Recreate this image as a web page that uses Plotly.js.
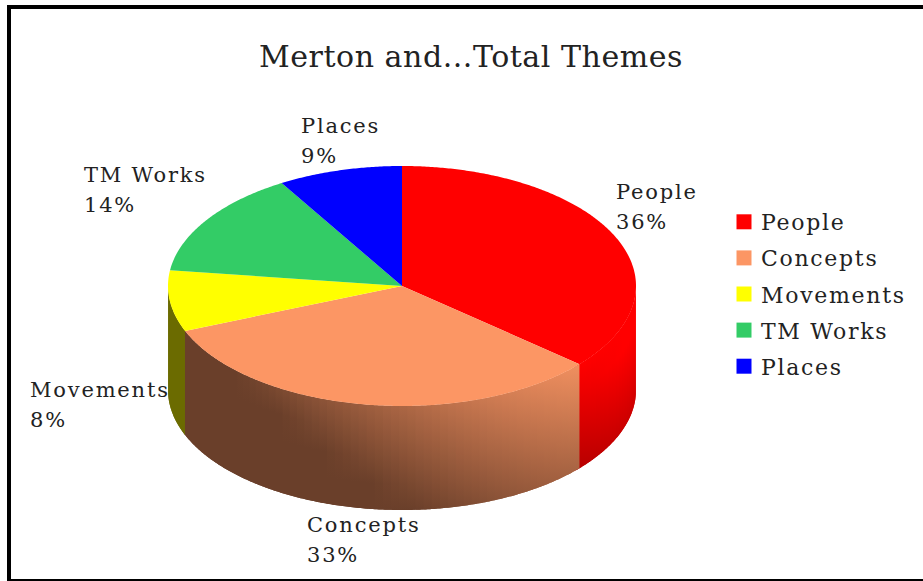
<!DOCTYPE html>
<html><head><meta charset="utf-8">
<script src="https://cdn.plot.ly/plotly-3.0.1.min.js"></script>
<style>html,body{margin:0;padding:0;background:#fff}#c{width:923px;height:581px}
.annotation-text{letter-spacing:1.8px}
.gtitle{letter-spacing:0.55px}
.legendtext{letter-spacing:1.7px;transform:translateX(-3px)}
</style>
</head><body><div id="c"></div>
<script>
const categories = ["People","Concepts","Movements","TM Works","Places"];
const values = [36.3,32.6,8.2,14.3,8.6];
const colors = ["#ff0000","#fc9664","#ffff00","#33cc66","#0000ff"];
const labelAt = [[615,179],[306,512],[29,377],[83,162],[300,113]];

const W=923,H=581,cx=402,cy=286,rx=234,ry=120,depth=104,lineGap=30;
const FONT='"DejaVu Serif", serif';
const total=values.reduce((a,b)=>a+b,0);
const rad=d=>d*Math.PI/180;
const px=a=>cx+rx*Math.sin(rad(a));
const py=a=>cy-ry*Math.cos(rad(a));
function shade(hex,a,v,boost){
  const u=Math.sin(rad(a));
  const s=Math.max(0.42,Math.min(1,0.68+0.36*u-0.28*v+boost));
  const n=parseInt(hex.slice(1),16);
  return `rgb(${Math.round((n>>16&255)*s)},${Math.round((n>>8&255)*s)},${Math.round((n&255)*s)})`;
}
const traces=[];
let start=0;const ranges=values.map(v=>{const r=[start,start+v/total*360];start=r[1];return r;});
// side wall strips (front half only); each strip runs under the next one to hide seams
ranges.forEach((r,i)=>{
  const a0=Math.max(r[0],90),a1=Math.min(r[1],270);
  if(a1<=a0)return;
  const step=2;
  for(let a=a0;a<a1;a+=step){
    const b=Math.min(a+step,a1),e=Math.min(b+2,270);
    const xs=[],ys=[];
    for(let t=a;t<e;t+=0.5){xs.push(px(t));ys.push(py(t));}
    xs.push(px(e));ys.push(py(e));
    const n=xs.length;
    for(let k=n-1;k>=0;k--){xs.push(xs[k]);ys.push(ys[k]+depth);}
    xs.push(xs[0]);ys.push(ys[0]);
    const m=(a+b)/2, boost=i===0?0.05:0;
    traces.push({type:'scatter',mode:'none',x:xs,y:ys,fill:'toself',showlegend:false,hoverinfo:'skip',
      fillgradient:{type:'vertical',start:py(m),stop:py(m)+depth,
        colorscale:[0,0.25,0.5,0.75,1].map(v=>[v,shade(colors[i],m,v,boost)])}});
  }
});
// top face wedges
ranges.forEach((r,i)=>{
  const xs=[cx],ys=[cy];
  for(let t=r[0];t<r[1];t+=0.5){xs.push(px(t));ys.push(py(t));}
  xs.push(px(r[1]),cx);ys.push(py(r[1]),cy);
  traces.push({type:'scatter',mode:'none',x:xs,y:ys,fill:'toself',fillcolor:colors[i],showlegend:false,
    name:categories[i],hoverinfo:'name'});
});
// legend
categories.forEach((c,i)=>traces.push({type:'scatter',mode:'markers',x:[null],y:[null],name:c,legendgroup:c,
  marker:{symbol:'square',size:15,color:colors[i]}}));

const note=(x,y,text)=>({xref:'x',yref:'y',x,y,xanchor:'left',yanchor:'top',align:'left',showarrow:false,
  borderpad:0,text,font:{family:FONT,size:21,color:'#222'}});
const annotations=[];
categories.forEach((c,i)=>{
  annotations.push(note(labelAt[i][0],labelAt[i][1],c));
  annotations.push(note(labelAt[i][0],labelAt[i][1]+lineGap,Math.round(values[i]/total*100)+'%'));
});

const rect=(x0,y0,x1,y1)=>({type:'rect',xref:'x',yref:'y',x0,y0,x1,y1,fillcolor:'#000',line:{width:0},layer:'above'});
const layout={width:W,height:H,margin:{l:0,r:0,t:0,b:0},paper_bgcolor:'#fff',plot_bgcolor:'#fff',
  title:{text:'Merton and...Total Themes',font:{family:FONT,size:30,color:'#222'},x:471/W,xanchor:'center',xref:'paper',y:1-56/H,yanchor:'middle',yref:'paper'},
  xaxis:{range:[0,W],visible:false,fixedrange:true},
  yaxis:{range:[H,0],visible:false,fixedrange:true},
  showlegend:true,
  legend:{x:724/W,y:1-201/H,xanchor:'left',yanchor:'top',font:{family:FONT,size:22,color:'#222'},tracegroupgap:4.5,itemwidth:30,bgcolor:'rgba(0,0,0,0)'},
  annotations,
  shapes:[rect(7,5,11,H),rect(7,5,W,9),rect(7,579,W,H)]
};
Plotly.newPlot('c',traces,layout,{displayModeBar:false,staticPlot:true});
</script></body></html>
